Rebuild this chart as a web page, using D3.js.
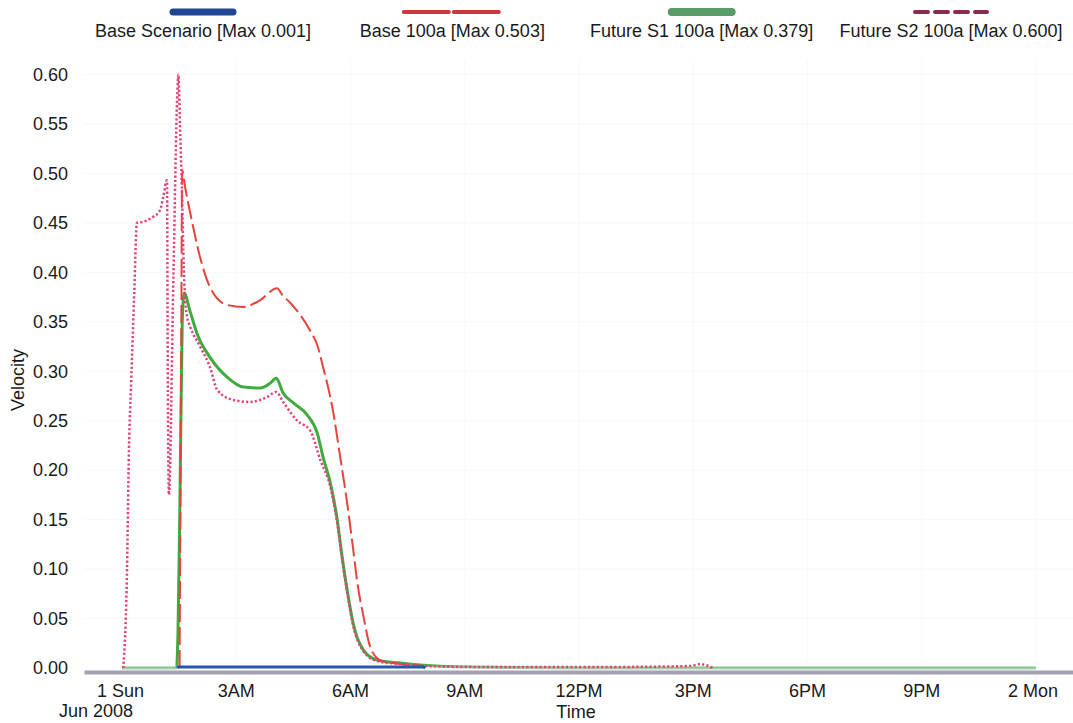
<!DOCTYPE html>
<html>
<head>
<meta charset="utf-8">
<script src="https://cdn.jsdelivr.net/npm/d3@7"></script>
<style>
  html, body { margin: 0; padding: 0; background: #ffffff; }
  svg { display: block; }
  text { font-family: "Liberation Sans", Arial, sans-serif; fill: #1a1a1a; }
</style>
</head>
<body>
<svg id="chart" width="1073" height="723"></svg>
<script>
// Velocity time series, hours after midnight on Sun 1 Jun 2008
const seriesNames = ["Base Scenario", "Base 100a", "Future S1 100a", "Future S2 100a"];

const baseScenarioHours  = [1.45, 1.48, 2.10, 2.30, 7.90, 7.96];
const baseScenarioValues = [0.000, 0.001, 0.001, 0.001, 0.001, 0.000];

const base100aHours  = [1.51, 1.55, 1.58, 1.66, 1.79, 2.05, 2.31, 2.76, 3.18, 3.63, 4.07, 4.21, 4.42, 4.94, 5.13, 5.28, 5.52, 5.73, 5.91, 6.05, 6.18, 6.34, 6.52, 6.78, 7.31, 7.91, 7.96];
const base100aValues = [0.000, 0.300, 0.503, 0.485, 0.460, 0.415, 0.385, 0.367, 0.365, 0.372, 0.384, 0.377, 0.369, 0.341, 0.326, 0.304, 0.264, 0.213, 0.167, 0.126, 0.086, 0.052, 0.021, 0.008, 0.004, 0.002, 0.000];

const futureS1Hours  = [0.00, 1.43, 1.47, 1.52, 1.58, 1.63, 1.79, 1.97, 2.31, 2.76, 3.18, 3.63, 3.89, 4.05, 4.23, 4.50, 4.86, 5.13, 5.28, 5.47, 5.65, 5.78, 5.91, 6.07, 6.34, 6.70, 7.31, 7.83, 8.89, 12.0, 24.0];
const futureS1Values = [0.000, 0.000, 0.040, 0.170, 0.350, 0.379, 0.360, 0.338, 0.314, 0.294, 0.284, 0.283, 0.288, 0.293, 0.278, 0.268, 0.256, 0.237, 0.213, 0.187, 0.150, 0.112, 0.079, 0.045, 0.018, 0.008, 0.005, 0.003, 0.001, 0.000, 0.000];

const futureS2Hours  = [0.03, 0.13, 0.18, 0.24, 0.32, 0.39, 0.55, 0.81, 1.00, 1.08, 1.18, 1.20, 1.23, 1.35, 1.45, 1.48, 1.52, 1.58, 1.61, 1.66, 1.71, 1.79, 2.05, 2.31, 2.50, 2.92, 3.36, 3.81, 4.05, 4.23, 4.60, 4.94, 5.21, 5.47, 5.65, 5.78, 5.91, 6.07, 6.34, 6.70, 7.31, 7.91, 9.94, 12.57, 14.93, 15.19, 15.33, 15.51];
const futureS2Values = [0.000, 0.100, 0.220, 0.290, 0.380, 0.450, 0.451, 0.456, 0.463, 0.476, 0.493, 0.300, 0.175, 0.400, 0.580, 0.600, 0.550, 0.470, 0.420, 0.370, 0.355, 0.345, 0.325, 0.304, 0.281, 0.271, 0.269, 0.274, 0.279, 0.269, 0.250, 0.240, 0.210, 0.183, 0.147, 0.110, 0.077, 0.043, 0.017, 0.007, 0.004, 0.002, 0.001, 0.001, 0.002, 0.004, 0.003, 0.000];

const seriesHours  = [baseScenarioHours, base100aHours, futureS1Hours, futureS2Hours];
const seriesValues = [baseScenarioValues, base100aValues, futureS1Values, futureS2Values];

// Axis ticks
const xTickHours  = [0, 3, 6, 9, 12, 15, 18, 21, 24];
const xTickLabels = ["1 Sun", "3AM", "6AM", "9AM", "12PM", "3PM", "6PM", "9PM", "2 Mon"];
const xTickSubLabels = ["Jun 2008", "", "", "", "", "", "", "", ""];
const yTickValues = [0.00, 0.05, 0.10, 0.15, 0.20, 0.25, 0.30, 0.35, 0.40, 0.45, 0.50, 0.55, 0.60];

// Line styling per series
const styles = [
  { color: "#2756ad", width: 3,   dash: null,      legendColor: "#1f4690", legendDash: null,   legendWidth: 7, legendLen: 60 },
  { color: "#e8433a", width: 2,   dash: "18,5",    legendColor: "#c8383c", legendDash: "45,5", legendWidth: 4, legendLen: 97 },
  { color: "#3dab3d", width: 3,   dash: null,      legendColor: "#5a9c68", legendDash: null,   legendWidth: 8, legendLen: 60 },
  { color: "#e4407a", width: 2.5, dash: "2.2,2.2", legendColor: "#8c2a4c", legendDash: "13,7", legendWidth: 4, legendLen: 72 }
];

const FONT = 18;
const svg = d3.select("#chart");
const width = 1073;

const t0 = new Date(2008, 5, 1, 0, 0, 0);
const toDate = h => new Date(t0.getTime() + h * 3600 * 1000);

const x = d3.scaleTime()
  .domain([toDate(-1), toDate(25)])
  .range([84, 1074]);

const y = d3.scaleLinear()
  .domain([0, 0.6])
  .range([668, 74.5]);

// Very faint gridlines
const grid = svg.append("g");
grid.selectAll("line.h").data(yTickValues.slice(1)).join("line")
  .attr("x1", 84).attr("x2", width)
  .attr("y1", d => y(d)).attr("y2", d => y(d))
  .attr("stroke", "#f8f8f8").attr("stroke-width", 1);
grid.selectAll("line.v").data(xTickHours.slice(1)).join("line")
  .attr("x1", d => x(toDate(d))).attr("x2", d => x(toDate(d)))
  .attr("y1", 60).attr("y2", 668)
  .attr("stroke", "#f8f8f8").attr("stroke-width", 1);

// X axis band
const xAxis = d3.axisBottom(x)
  .tickValues(xTickHours.map(toDate))
  .tickSize(0)
  .tickFormat("");
const xg = svg.append("g").attr("transform", "translate(0,672)").call(xAxis);
xg.select(".domain").attr("stroke", "#a2a2b6").attr("stroke-width", 4);

// X tick labels
const xl = svg.append("g");
xTickHours.forEach((h, i) => {
  const px = x(toDate(h));
  const isDay = xTickSubLabels[i] !== "" || i === xTickHours.length - 1;
  xl.append("text")
    .attr("x", isDay ? px + 22 : px)
    .attr("y", 697)
    .attr("text-anchor", isDay ? "end" : "middle")
    .attr("font-size", FONT)
    .text(xTickLabels[i]);
  if (xTickSubLabels[i]) {
    xl.append("text")
      .attr("x", px + 11)
      .attr("y", 717)
      .attr("text-anchor", "end")
      .attr("font-size", FONT)
      .text(xTickSubLabels[i]);
  }
});

svg.append("text")
  .attr("x", 576).attr("y", 718)
  .attr("text-anchor", "middle")
  .attr("font-size", FONT)
  .text("Time");

// Y axis labels
const yAxis = d3.axisLeft(y)
  .tickValues(yTickValues)
  .tickSize(0)
  .tickPadding(0)
  .tickFormat(d3.format(".2f"));
const yg = svg.append("g").attr("transform", "translate(68,0)").call(yAxis);
yg.select(".domain").remove();
yg.selectAll("text")
  .attr("font-size", FONT)
  .attr("font-family", "Liberation Sans, Arial, sans-serif")
  .attr("fill", "#1a1a1a");

svg.append("text")
  .attr("transform", "translate(24,380) rotate(-90)")
  .attr("text-anchor", "middle")
  .attr("font-size", FONT)
  .text("Velocity");

// Green trace fades where it lies on the zero line
const defs = svg.append("defs");
const fade = defs.append("linearGradient")
  .attr("id", "s1fade")
  .attr("gradientUnits", "userSpaceOnUse")
  .attr("x1", 0).attr("x2", 0)
  .attr("y1", y(0.004)).attr("y2", y(0) + 1);
fade.append("stop").attr("offset", 0).attr("stop-color", styles[2].color);
fade.append("stop").attr("offset", 1).attr("stop-color", "#b3cfb8");

// Series lines
const line = d3.line()
  .x(d => x(toDate(d[0])))
  .y(d => y(d[1]))
  .curve(d3.curveMonotoneX);

const drawOrder = [2, 1, 3, 0];
drawOrder.forEach(i => {
  const pts = seriesHours[i].map((h, k) => [h, seriesValues[i][k]]);
  svg.append("path")
    .datum(pts)
    .attr("d", line)
    .attr("fill", "none")
    .attr("stroke", i === 2 ? "url(#s1fade)" : styles[i].color)
    .attr("stroke-width", styles[i].width)
    .attr("stroke-dasharray", styles[i].dash)
    .attr("stroke-linejoin", "round");
});

// Legend across the top
const legendX = d3.scalePoint().domain(d3.range(seriesNames.length)).range([203, 951]);
seriesNames.forEach((name, i) => {
  const cx = legendX(i);
  const s = styles[i];
  const maxVal = d3.max(seriesValues[i]);
  svg.append("line")
    .attr("x1", cx - s.legendLen / 2).attr("x2", cx + s.legendLen / 2)
    .attr("y1", 12).attr("y2", 12)
    .attr("stroke", s.legendColor)
    .attr("stroke-width", s.legendWidth)
    .attr("stroke-linecap", "round")
    .attr("stroke-dasharray", s.legendDash);
  svg.append("text")
    .attr("x", cx).attr("y", 37)
    .attr("text-anchor", "middle")
    .attr("font-size", FONT)
    .text(`${name} [Max ${d3.format(".3f")(maxVal)}]`);
});
</script>
</body>
</html>
